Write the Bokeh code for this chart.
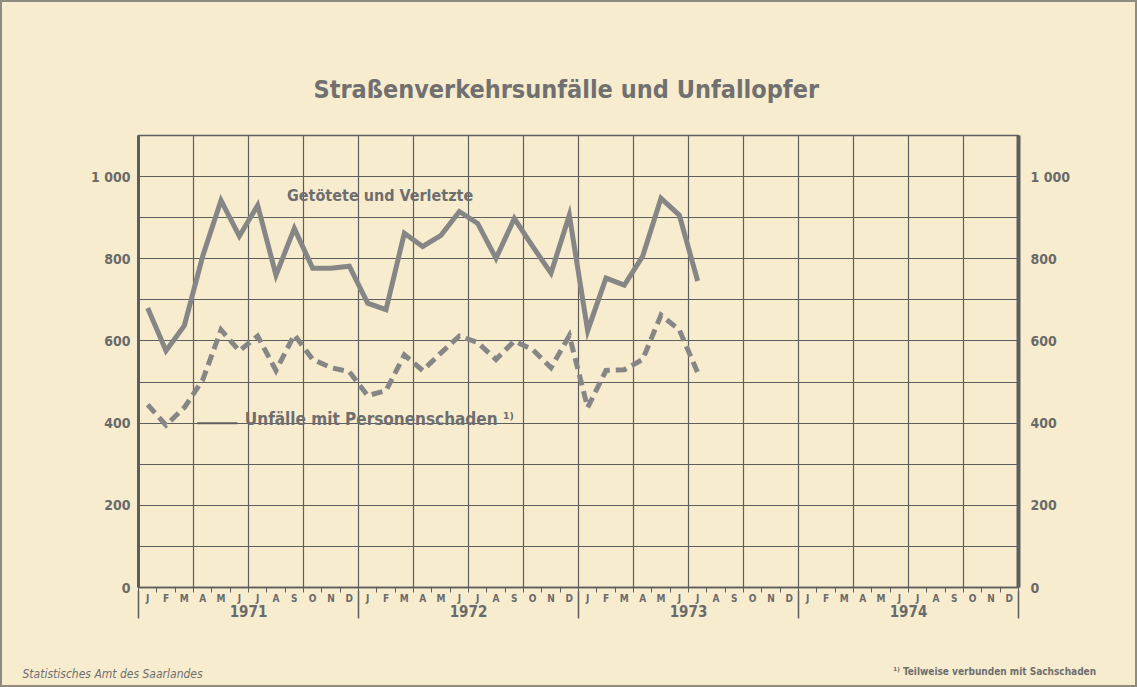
from bokeh.plotting import figure
from bokeh.layouts import column
from bokeh.models import Range1d, LinearAxis, FixedTicker, Grid, Label, ColumnDataSource, Title
from bokeh.embed import file_html
from bokeh.resources import INLINE

# ---------------- data (Jan 1971 .. Jul 1973) ----------------
month_letters = ["J", "F", "M", "A", "M", "J", "J", "A", "S", "O", "N", "D"]
years = ["1971", "1972", "1973", "1974"]
y_tick_values = [0, 200, 400, 600, 800, 1000]
y_tick_labels = ["0", "200", "400", "600", "800", "1 000"]

getoetete_verletzte = [680, 576, 637, 806, 942, 855, 930, 760, 874, 777, 777, 782,
                       692, 676, 862, 830, 857, 915, 886, 801, 898, 830, 765, 906,
                       625, 753, 736, 806, 947, 906, 746]
unfaelle_personenschaden = [445, 395, 438, 505, 627, 576, 612, 528, 615, 555, 535, 525,
                            467, 479, 566, 528, 571, 612, 596, 555, 600, 579, 535, 613,
                            438, 528, 530, 555, 663, 627, 523]

title_text = "Straßenverkehrsunfälle und Unfallopfer"
source_text = "Statistisches Amt des Saarlandes"
footnote_text = "¹⁾ Teilweise verbunden mit Sachschaden"
footnote_pos = 46.7   # centre of the footnote, in month units

n_months = 12 * len(years)
month_pos = [i + 0.5 for i in range(len(getoetete_verletzte))]

FONT = "DejaVu Sans Condensed"
BG = "#f8ecce"
INK = "#5e5e5e"
LINE = "#868686"
TXT = "#6a6a6a"

p = figure(width=1125, height=675, output_backend="svg", toolbar_location=None,
           x_range=Range1d(0, n_months), y_range=Range1d(0, 1100),
           x_axis_type=None, y_axis_type=None,
           min_border_left=132, min_border_right=113, min_border_top=129, min_border_bottom=94)
p.background_fill_color = BG
p.border_fill_color = BG
p.outline_line_color = INK
p.outline_line_width = 1.5

# grids
xg = Grid(dimension=0, ticker=FixedTicker(ticks=list(range(0, n_months + 1, 3))),
          grid_line_color=INK, grid_line_width=1.2)
yg = Grid(dimension=1, ticker=FixedTicker(ticks=list(range(0, 1101, 100))),
          grid_line_color=INK, grid_line_width=1.2)
p.add_layout(xg)
p.add_layout(yg)

# x axes: months and years
month_axis = LinearAxis(
    ticker=FixedTicker(ticks=[i + 0.5 for i in range(n_months)],
                       minor_ticks=list(range(n_months + 1))),
    major_label_overrides={i + 0.5: month_letters[i % 12] for i in range(n_months)})
month_axis.axis_line_color = INK
month_axis.axis_line_width = 1.5
month_axis.major_tick_line_color = None
month_axis.major_tick_in = 0
month_axis.major_tick_out = 0
month_axis.minor_tick_line_color = INK
month_axis.minor_tick_in = 0
month_axis.minor_tick_out = 5
month_axis.major_label_standoff = 0
month_axis.major_label_text_font = FONT
month_axis.major_label_text_font_size = "10px"
month_axis.major_label_text_font_style = "bold"
month_axis.major_label_text_color = TXT
p.add_layout(month_axis, "below")

year_axis = LinearAxis(
    ticker=FixedTicker(ticks=[12 * k + 6 for k in range(len(years))],
                       minor_ticks=[12 * k for k in range(len(years) + 1)]),
    major_label_overrides={12 * k + 6: years[k] for k in range(len(years))})
year_axis.axis_line_color = None
year_axis.major_tick_line_color = None
year_axis.major_tick_in = 0
year_axis.major_tick_out = 0
year_axis.minor_tick_line_color = INK
year_axis.minor_tick_line_width = 1.5
year_axis.minor_tick_in = 16
year_axis.minor_tick_out = 12
year_axis.major_label_standoff = -14
year_axis.major_label_text_font = FONT
year_axis.major_label_text_font_size = "15px"
year_axis.major_label_text_font_style = "bold"
year_axis.major_label_text_color = TXT
p.add_layout(year_axis, "below")

# footnote row (as an axis label row)
foot_axis = LinearAxis(ticker=FixedTicker(ticks=[footnote_pos]),
                       major_label_overrides={footnote_pos: footnote_text})
foot_axis.axis_line_color = None
foot_axis.major_tick_line_color = None
foot_axis.minor_tick_line_color = None
foot_axis.major_tick_in = 0
foot_axis.major_tick_out = 0
foot_axis.major_label_standoff = 46
foot_axis.major_label_text_font = FONT
foot_axis.major_label_text_font_size = "10px"
foot_axis.major_label_text_font_style = "bold"
foot_axis.major_label_text_color = "#6e6e6e"
p.add_layout(foot_axis, "below")

# y axes left and right
for side, standoff, lw in (("left", 8, 3), ("right", 12, 4)):
    ax = LinearAxis(ticker=FixedTicker(ticks=y_tick_values),
                    major_label_overrides={v: t for v, t in zip(y_tick_values, y_tick_labels)})
    ax.axis_line_color = INK
    ax.axis_line_width = lw
    ax.major_tick_line_color = None
    ax.major_tick_in = 0
    ax.major_tick_out = 0
    ax.minor_tick_line_color = None
    ax.major_label_standoff = standoff
    ax.major_label_text_font = FONT
    ax.major_label_text_font_size = "14px"
    ax.major_label_text_font_style = "bold"
    ax.major_label_text_color = TXT
    p.add_layout(ax, side)

# data lines
src = ColumnDataSource(dict(x=month_pos, gv=getoetete_verletzte, up=unfaelle_personenschaden))
p.line("x", "gv", source=src, line_color=LINE, line_width=5, line_join="miter")
p.line("x", "up", source=src, line_color=LINE, line_width=5, line_join="miter",
       line_dash="11 6")

# in-chart labels
p.add_layout(Label(x=8.1, y=954, text="Getötete und Verletzte", text_font=FONT,
                   text_font_size="16px", text_font_style="bold", text_color="#6e6e6e",
                   text_baseline="middle", text_align="left"))
p.add_layout(Label(x=5.8, y=411, text="Unfälle mit Personenschaden ¹⁾", text_font=FONT,
                   text_font_size="17px", text_font_style="bold", text_color="#6e6e6e",
                   text_baseline="middle", text_align="left"))
p.segment(x0=[3.2], y0=[400], x1=[5.4], y1=[400], line_color=INK, line_width=2)

# title
p.add_layout(Title(text=title_text, align="left", offset=175,
                   text_font=FONT, text_font_size="25px", text_font_style="bold",
                   text_color="#707070", standoff=64), "above")

# source line (bottom left)
p.add_layout(Title(text=source_text, align="left", offset=-116, vertical_align="top",
                   text_font=FONT, text_font_size="12px", text_font_style="italic",
                   text_color="#6e6e6e", standoff=-25), "below")

layout = column(p, styles={"border": "2px solid #8f8b80", "padding": "4px",
                           "background-color": BG})

open("out.html", "w").write(file_html(layout, INLINE))
